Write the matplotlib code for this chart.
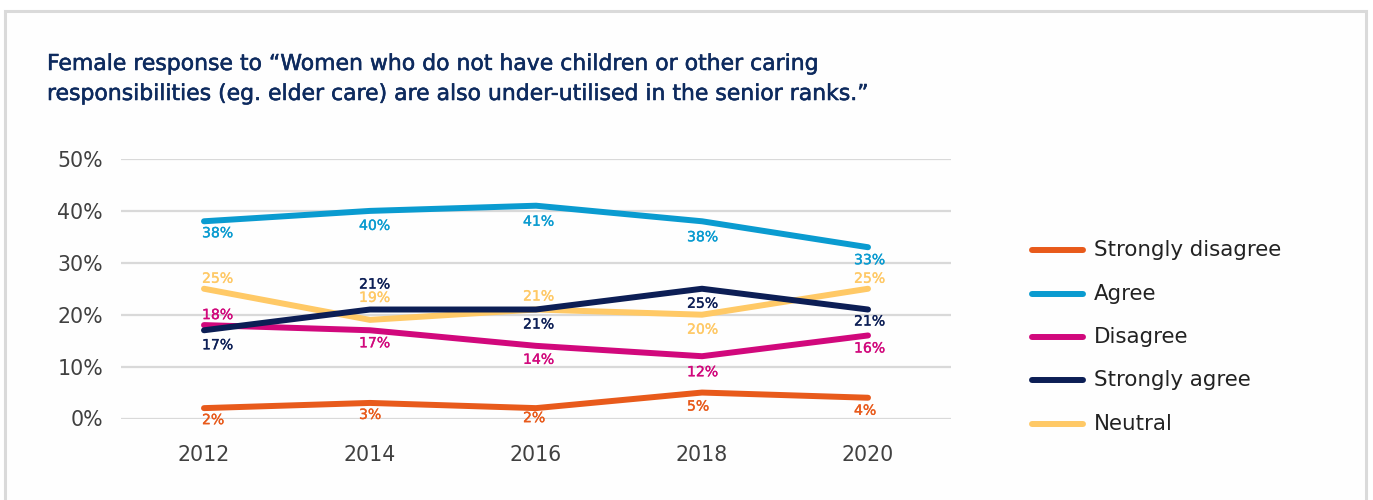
import matplotlib
matplotlib.use("Agg")
import matplotlib.pyplot as plt
import matplotlib.patheffects as pe
from matplotlib.lines import Line2D
from matplotlib.patches import Rectangle
from matplotlib.ticker import FuncFormatter

# ---- data -------------------------------------------------------------
years = [2012, 2014, 2016, 2018, 2020]
strongly_disagree = [2, 3, 2, 5, 4]
agree = [38, 40, 41, 38, 33]
disagree = [18, 17, 14, 12, 16]
strongly_agree = [17, 21, 21, 25, 21]
neutral = [25, 19, 21, 20, 25]

series_names = ["Strongly disagree", "Agree", "Disagree", "Strongly agree", "Neutral"]
y_ticks = [0, 10, 20, 30, 40, 50]

title_lines = [
    "Female response to \u201cWomen who do not have children or other caring",
    "responsibilities (eg. elder care) are also under-utilised in the senior ranks.\u201d",
]

# ---- styling ----------------------------------------------------------
colors = {
    "Strongly disagree": "#E85A1B",
    "Agree": "#0A9BD0",
    "Disagree": "#D1087C",
    "Strongly agree": "#0C1E55",
    "Neutral": "#FFC966",
}
zorders = {"Neutral": 3, "Strongly disagree": 4, "Agree": 4, "Disagree": 5, "Strongly agree": 6}

# vertical label offset in pixels (positive = above the line)
label_dy = {
    "Strongly disagree": [-12, -12, -10, -14, -13],
    "Agree": [-12, -15, -16, -16, -13],
    "Disagree": [10, -13, -14, -16, -13],
    "Strongly agree": [-15, 25, -15, -15, -12],
    "Neutral": [10, 22, 13, -15, 10],
}
# horizontal offset of the label's left edge relative to the point, in pixels
label_dx = [-2, -11, -13, -15, -14]

plt.rcParams["font.family"] = ["DejaVu Sans"]

W, H, DPI = 1373, 500, 100
fig = plt.figure(figsize=(W / DPI, H / DPI), dpi=DPI)
fig.patch.set_facecolor("white")
PX = 72.0 / DPI  # points per pixel


def medium(color, width):
    """Slightly heavier stroke so regular glyphs read as a medium weight."""
    return [pe.withStroke(linewidth=width, foreground=color)]


# outer panel frame (open at the bottom)
fig.add_artist(Rectangle((5 / W, -0.05), (1366 - 5) / W, (H - 11) / H + 0.05,
                         transform=fig.transFigure, facecolor="#fefefe",
                         edgecolor="#dadada", linewidth=2.2, zorder=0))

# title
title_color = "#0D2A5E"
for i, line in enumerate(title_lines):
    fig.text(47 / W, 1 - (70 + 30 * i) / H, line, fontsize=15.8, color=title_color,
             ha="left", va="baseline", path_effects=medium(title_color, 0.4))

ax_left, ax_right = 121, 951
ax_top, ax_bottom = 159, 418.5
ax = fig.add_axes([ax_left / W, 1 - ax_bottom / H, (ax_right - ax_left) / W, (ax_bottom - ax_top) / H])
ax.set_facecolor("none")
ax.set_xlim(2011, 2021)
ax.set_ylim(0, 50)

for s in ax.spines.values():
    s.set_visible(False)
ax.set_yticks(y_ticks)
ax.yaxis.set_major_formatter(FuncFormatter(lambda v, p: f"{int(v)}%"))
ax.set_xticks(years)
ax.set_xticklabels([str(y) for y in years])
ax.tick_params(axis="y", length=0, pad=13, labelsize=14.8, labelcolor="#404040")
ax.tick_params(axis="x", length=0, pad=19, labelsize=14.8, labelcolor="#404040")
ax.grid(axis="y", color="#d9d9d9", linewidth=1.6, zorder=1)
ax.set_axisbelow(True)

data = {
    "Strongly disagree": strongly_disagree,
    "Agree": agree,
    "Disagree": disagree,
    "Strongly agree": strongly_agree,
    "Neutral": neutral,
}

for name in series_names:
    vals = data[name]
    ax.plot(years, vals, color=colors[name], linewidth=4.3, solid_capstyle="round",
            solid_joinstyle="round", zorder=zorders[name], clip_on=False)
    for j, (x, v) in enumerate(zip(years, vals)):
        ax.annotate(f"{v}%", xy=(x, v), xytext=(label_dx[j] * PX, label_dy[name][j] * PX),
                    textcoords="offset points", ha="left", va="center",
                    fontsize=10.1, color=colors[name], zorder=7, annotation_clip=False,
                    path_effects=medium(colors[name], 0.25))

# legend
leg_rows = [250, 293.5, 337, 380, 423.5]
for name, yy in zip(series_names, leg_rows):
    fig.add_artist(Line2D([1032 / W, 1083 / W], [1 - yy / H, 1 - yy / H], transform=fig.transFigure,
                          color=colors[name], linewidth=4.3, solid_capstyle="round"))
    fig.text(1094 / W, 1 - yy / H, name, fontsize=15.4, color="#222222", ha="left", va="center")

fig.savefig("out.png", dpi=DPI)
